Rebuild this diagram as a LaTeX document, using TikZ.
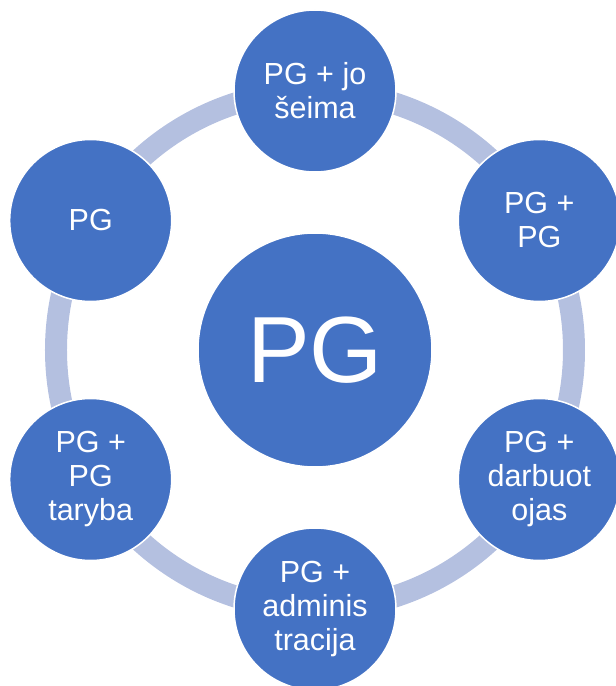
\documentclass[tikz,border=0pt]{standalone}
\usepackage{fontspec}
\setmainfont{Liberation Sans}
\usepackage{tikz}
\usetikzlibrary{positioning}
\definecolor{pgblue}{HTML}{4472C4}
\definecolor{ringblue}{HTML}{B4C0E0}

\tikzset{
    bubble/.style={circle, fill=pgblue, draw=white, line width=1.5pt, inner sep=0pt,
        minimum size=162pt, text=white, align=center, font=\fontsize{30.5}{34}\selectfont},
    hubbubble/.style={bubble, minimum size=234pt, font=\fontsize{94}{104}\selectfont}
}

\begin{document}
\begin{tikzpicture}[x=1pt, y=1pt]
    \useasboundingbox (-315,-336) rectangle (301,350);
    % ring behind the bubbles
    \draw[ringblue, line width=22pt] (0,0) circle (259);

    \node[hubbubble] (hub) at (0,0) {PG};

    \foreach \ang/\txt [count=\i] in {90/{PG + jo\\šeima}, 30/{PG +\\PG}, -30/{PG +\\darbuot\\ojas},
        -90/{PG +\\adminis\\tracija}, 210/{PG +\\PG\\taryba}, 150/{PG}} {
        \node[bubble] (c\i) at (\ang:259) {\txt};
    }
\end{tikzpicture}
\end{document}
